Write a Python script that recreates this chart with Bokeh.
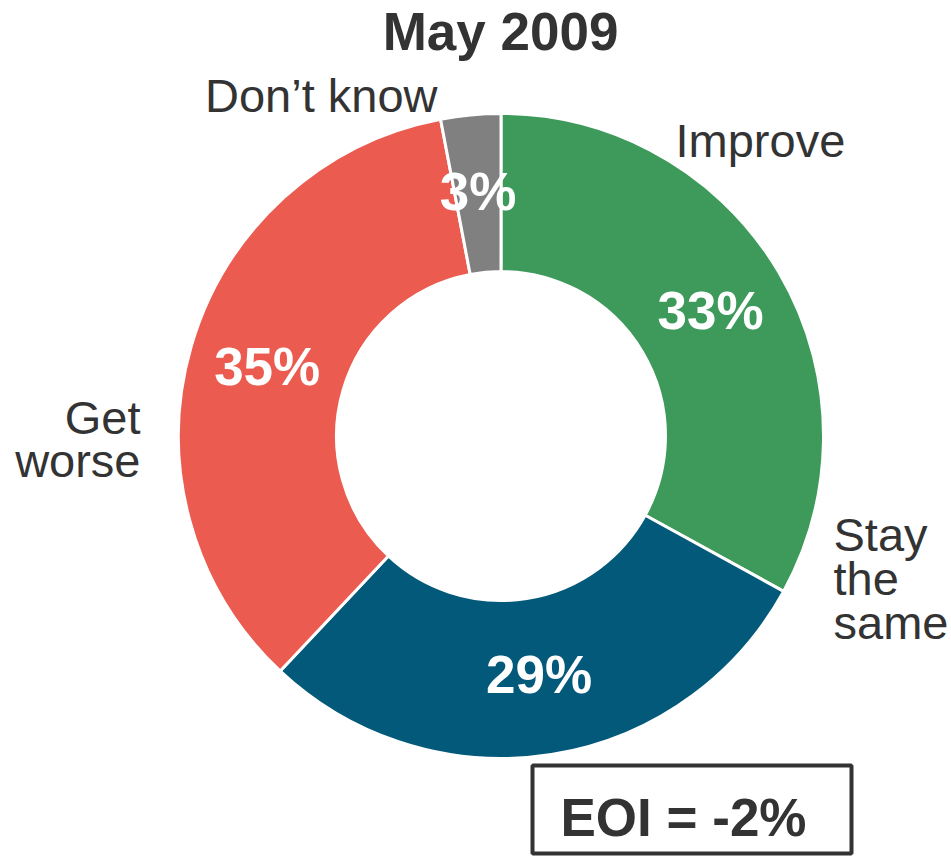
import math
from bokeh.plotting import figure
from bokeh.models import Range1d, ColumnDataSource
from bokeh.core.properties import value
from bokeh.embed import file_html
from bokeh.resources import INLINE

# ---- data ----
title_text = "May 2009"
categories = ["Improve", "Stay the same", "Get worse", "Don\u2019t know"]
values = [33, 29, 35, 3]
colors = ["#3E9A5A", "#03597A", "#EB5B4F", "#808080"]
eoi_text = "EOI = -2%"

# ---- layout (page pixel coordinates, y measured from top of window) ----
W, H = 951, 857
FONT = "Liberation Sans"
TXT = "#333333"
BASE_SHIFT = 18  # renderer places alphabetic baseline lower; compensate


def Y(img_y):
    return H - img_y


cx, cy = 500.5, Y(435.5)
r_in, r_out = 164.5, 322.5

p = figure(width=W, height=H, x_range=Range1d(0, W), y_range=Range1d(0, H),
           output_backend="svg", toolbar_location=None, min_border=0,
           x_axis_location=None, y_axis_location=None, outline_line_color=None,
           background_fill_color="white", border_fill_color="white")
p.grid.visible = False

total = sum(values)
starts, ends, mids = [], [], []
c = 0.0
for v in values:
    c0 = c / total
    c += v
    c1 = c / total
    starts.append(math.pi / 2 - 2 * math.pi * c0)
    ends.append(math.pi / 2 - 2 * math.pi * c1)
    mids.append(math.pi / 2 - 2 * math.pi * (c0 + c1) / 2)

src = ColumnDataSource(dict(start=starts, end=ends, color=colors, cat=categories))
p.annular_wedge(x=cx, y=cy, inner_radius=r_in, outer_radius=r_out,
                start_angle="start", end_angle="end", direction="clock",
                fill_color="color", line_color="white", line_width=3, source=src)

# percentage labels inside the ring
r_lab = (r_in + r_out) / 2
pct_src = ColumnDataSource(dict(
    x=[cx + r_lab * math.cos(a) for a in mids],
    y=[cy + r_lab * math.sin(a) for a in mids],
    t=[f"{v}%" for v in values]))
p.text(x="x", y="y", text="t", source=pct_src, text_font=value(FONT),
       text_font_style="bold", text_font_size="53px", text_color="white",
       text_align="center", text_baseline="middle", y_offset=-2)

# outer category labels (split into lines)
lab_lines = [
    ("Improve", 675, 158, "left"),
    ("Stay", 833, 552, "left"),
    ("the", 833, 596, "left"),
    ("same", 833, 640, "left"),
    ("Get", 140, 435, "right"),
    ("worse", 140, 478, "right"),
    ("Don\u2019t know", 437, 113, "right"),
]
for t, x, yy, al in lab_lines:
    p.text(x=[x], y=[Y(yy - BASE_SHIFT)], text=[t], text_font=value(FONT),
           text_font_size="47px", text_color=TXT, text_align=al,
           text_baseline="alphabetic")

# title
p.text(x=[500], y=[Y(49 - BASE_SHIFT)], text=[title_text], text_font=value(FONT),
       text_font_style="bold", text_font_size="53px", text_color=TXT,
       text_align="center", text_baseline="alphabetic")

# EOI box
p.quad(left=[532], right=[851], top=[Y(765)], bottom=[Y(853)],
       fill_color=None, line_color=TXT, line_width=4)
p.text(x=[683], y=[Y(835 - BASE_SHIFT)], text=[eoi_text], text_font=value(FONT),
       text_font_style="bold", text_font_size="53px", text_color=TXT,
       text_align="center", text_baseline="alphabetic")

open("out.html", "w").write(file_html(p, INLINE))
